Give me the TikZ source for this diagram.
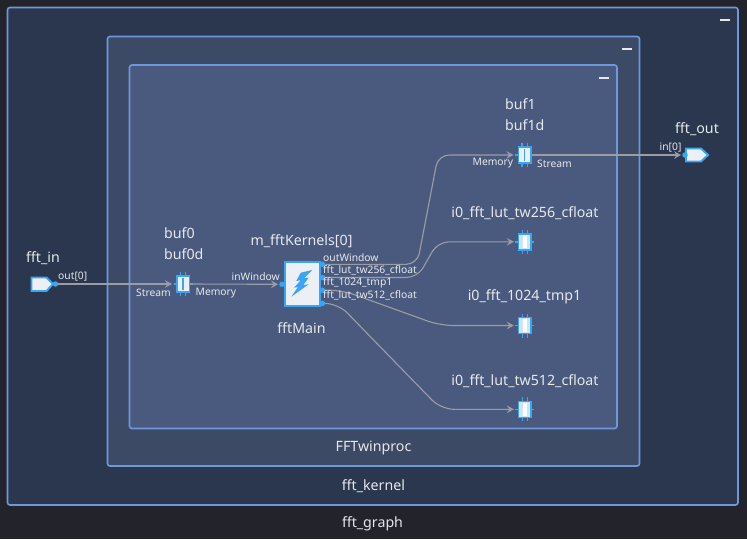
\documentclass[tikz,border=0pt]{standalone}
\usepackage{fontspec}
\setmainfont{Noto Sans}
\usetikzlibrary{arrows.meta}
\definecolor{bgc}{HTML}{22232B}
\definecolor{outerc}{HTML}{2A374E}
\definecolor{midc}{HTML}{3C4A66}
\definecolor{innerc}{HTML}{4A5A7F}
\definecolor{framec}{HTML}{6F98DC}
\definecolor{blu}{HTML}{38A5F5}
\definecolor{whi}{HTML}{ECEFF3}
\definecolor{pale}{HTML}{CFE5F7}
\definecolor{wire}{HTML}{9A9DA6}
\definecolor{txt}{HTML}{E6E8EC}
\tikzset{
  x=1pt,y=-1pt,
  frame/.style={draw=framec,line width=1.6pt,rounded corners=2.5pt},
  title/.style={text=txt,font=\fontsize{14.2}{16}\selectfont,inner sep=0pt},
  lab/.style={text=txt,font=\fontsize{10.3}{12}\selectfont,inner sep=0pt},
  wirel/.style={draw=wire,line width=1.1pt,-{Stealth[length=7pt,width=7.5pt,inset=2.5pt]}},
  dot/.style={circle,fill=blu,inner sep=0pt,minimum size=5.5pt},
  chipbox/.style={draw=blu,line width=1.5pt,minimum width=12.5pt,minimum height=16pt,inner sep=0pt},
  pin/.style={draw=blu,line width=1.4pt},
  gate/.style={draw=blu,fill=whi,line width=1.9pt},
  minus/.style={fill=txt,minimum width=10pt,minimum height=2pt,inner sep=0pt},
}
\newcommand{\chippins}[2]{%
  \draw[pin] (#1-2.7,#2-12) -- (#1-2.7,#2+12) (#1+2.7,#2-12) -- (#1+2.7,#2+12) (#1-9.5,#2) -- (#1+9.5,#2);
}
\newcommand{\bufchip}[3]{%
  \chippins{#2}{#3}
  \node[chipbox,fill=whi] (#1) at (#2,#3) {};
  \draw[blu,line width=1.3pt] (#2,#3-6) -- (#2,#3+6);
}
\newcommand{\lutchip}[3]{%
  \chippins{#2}{#3}
  \node[chipbox,fill=pale] (#1) at (#2,#3) {};
  \fill[white] (#2-2,#3-6.5) rectangle (#2+2,#3+6.5);
}
\begin{document}
\begin{tikzpicture}
\useasboundingbox (0,0) rectangle (747,539);
\fill[bgc] (0,0) rectangle (747,539);
\draw[frame,fill=outerc] (7.5,7.5) rectangle (738,505);
\draw[frame,fill=midc] (107.5,36.5) rectangle (639.5,466);
\draw[frame,fill=innerc] (129.5,65) rectangle (617,428.5);
\node[minus] (m1) at (724.5,20) {};
\node[minus] (m2) at (627,48.5) {};
\node[minus] (m3) at (604,77.5) {};
\node[title] (tgraph) at (372.5,524) {fft\_graph};
\node[title] (tkernel) at (373.5,486) {fft\_kernel};
\node[title] (tproc) at (373.5,447.5) {FFTwinproc};
% ports
\node[title,anchor=west] (tin) at (26,258.5) {fft\_in};
\draw[gate] (31.5,277.5) -- (46.5,277.5) -- (53,284) -- (46.5,291) -- (31.5,291) -- cycle;
\node[dot] (pin) at (55.5,284) {};
\node[lab,anchor=west] (lin) at (58,277) {out[0]};
\node[title,anchor=west] (tout) at (675,129.5) {fft\_out};
\draw[gate] (686,148.5) -- (701,148.5) -- (708,155) -- (701,161.5) -- (686,161.5) -- cycle;
\node[dot] (pout) at (685,155) {};
\node[lab,anchor=west] (lout) at (659.5,147.5) {in[0]};
% buffers
\bufchip{b0}{183}{284}
\node[title,anchor=west] (tb0) at (164,233) {buf0};
\node[title,anchor=west] (tb0d) at (164,254.5) {buf0d};
\node[lab,anchor=west] (ls) at (136,293) {Stream};
\node[lab,anchor=west] (lm) at (195.5,293) {Memory};
\bufchip{b1}{524.5}{155}
\node[title,anchor=west] (tb1) at (505,104) {buf1};
\node[title,anchor=west] (tb1d) at (505,125.5) {buf1d};
\node[lab,anchor=west] (lm1) at (472.5,163.5) {Memory};
\node[lab,anchor=west] (ls1) at (537,163.5) {Stream};
\lutchip{c1}{524.9}{241.8}
\node[title] (t1) at (525,213) {i0\_fft\_lut\_tw256\_cfloat};
\lutchip{c2}{524.9}{325.5}
\node[title] (t2) at (524.5,297) {i0\_fft\_1024\_tmp1};
\lutchip{c3}{524.9}{409.3}
\node[title] (t3) at (525,381) {i0\_fft\_lut\_tw512\_cfloat};
% kernel
\node[dot] (kin) at (282,284.3) {};
\node[dot] (ko1) at (322.5,264.3) {};
\node[dot] (ko2) at (322.5,277.5) {};
\node[dot] (ko3) at (322.5,290.2) {};
\node[dot] (ko4) at (322.5,303.4) {};
\node[draw=blu,fill=whi,line width=2.2pt,minimum width=35pt,minimum height=44pt,inner sep=0pt] (k) at (302.7,284) {};
\fill[blu] (312.3,270) -- (300.7,272.7) -- (296.3,281) -- (300.7,280.3) -- (294,287.7) -- (298,287) -- (291.3,296.7) -- (308.7,284.3) -- (303.3,285) -- (308.7,277.7) -- (304,278.3) -- cycle;
% wires
\draw[wirel,shorten >=4pt] (pin) -- (b0.west);
\draw[wirel,shorten >=1pt] (b0.east) -- (kin.west);
\draw[wirel,shorten >=1pt] (b1.east) -- (pout.west);
\draw[wirel,shorten >=4pt,rounded corners=11pt] (ko1.east) -- (417.2,264.3) -- (438.2,155) -- (b1.west);
\draw[wirel,shorten >=4pt,rounded corners=11pt] (ko2.east) -- (417.5,277.5) -- (437.9,241.8) -- (c1.west);
\draw[wirel,shorten >=4pt,rounded corners=13pt] (ko3.east) -- (342,290.2) -- (440,325.5) -- (c2.west);
\draw[wirel,shorten >=4pt,rounded corners=13pt] (ko4.east) -- (338,303.4) -- (441,409.3) -- (c3.west);
\node[title] (tk) at (301.5,241.5) {m\_fftKernels[0]};
\node[title] (tm) at (301.5,328) {fftMain};
\node[lab,anchor=east] (lw) at (280,277) {inWindow};
\node[lab,anchor=west] (l1) at (323,257.5) {outWindow};
\node[lab,anchor=west] (l2) at (323,270.5) {fft\_lut\_tw256\_cfloat};
\node[lab,anchor=west] (l3) at (323,283) {fft\_1024\_tmp1};
\node[lab,anchor=west] (l4) at (323,295.5) {fft\_lut\_tw512\_cfloat};
\end{tikzpicture}
\end{document}
